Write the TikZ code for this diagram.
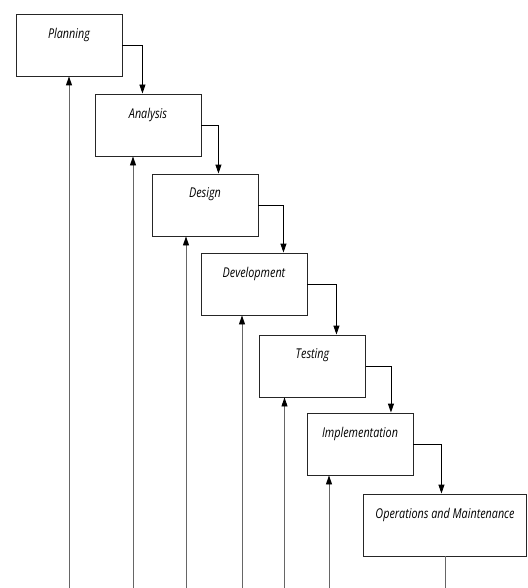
\documentclass[tikz,border=0pt]{standalone}
\usepackage{fontspec}
\setmainfont{Open Sans}[FakeStretch=0.8]
\usetikzlibrary{arrows.meta}
\tikzset{
  stagebox/.style={draw=black!85, line width=0.9pt, minimum width=106pt, minimum height=62pt, inner sep=0pt},
  stagetext/.style={anchor=center, yshift=-21pt, font=\itshape\fontsize{13.5}{15}\selectfont},
  flow/.style={draw=black, line width=0.9pt, -{Triangle[length=9pt,width=6pt]}},
  back/.style={draw=black!60, line width=0.9pt, -{Triangle[length=9pt,width=6pt,black]}}
}
\begin{document}
\begin{tikzpicture}[x=1pt, y=-1pt]
  \useasboundingbox (0,0) rectangle (527,588);
  \coordinate (floor) at (0,588);
  % stages
  \node[stagebox, label={[stagetext]north:Planning}] (plan) at (69,45) {};
  \node[stagebox, label={[stagetext]north:Analysis}] (anal) at (148,125) {};
  \node[stagebox, label={[stagetext]north:Design}] (desi) at (205,205) {};
  \node[stagebox, label={[stagetext]north:Development}] (deve) at (254,284) {};
  \node[stagebox, label={[stagetext]north:Testing}] (test) at (312.5,366) {};
  \node[stagebox, label={[stagetext]north:Implementation}] (impl) at (360,444) {};
  \node[stagebox, minimum width=163pt, label={[stagetext]north:Operations and Maintenance}] (oper) at (445,525) {};
  % cascade
  \foreach \a/\b/\d in {plan/anal/20, anal/desi/17, desi/deve/25, deve/test/29, test/impl/25, impl/oper/28}
    \draw[flow] (\a.east) -- ++(\d,0) coordinate (c\a) -- (c\a |- \b.north);
  % feedback
  \foreach \n/\o in {plan/0, anal/-15, desi/-19, deve/-12, test/-28, impl/-31}
    \draw[back] ([xshift=\o pt]\n.south |- floor) -- ([xshift=\o pt]\n.south);
  \draw[back, -] (oper.south) -- (oper.south |- floor);
\end{tikzpicture}
\end{document}
